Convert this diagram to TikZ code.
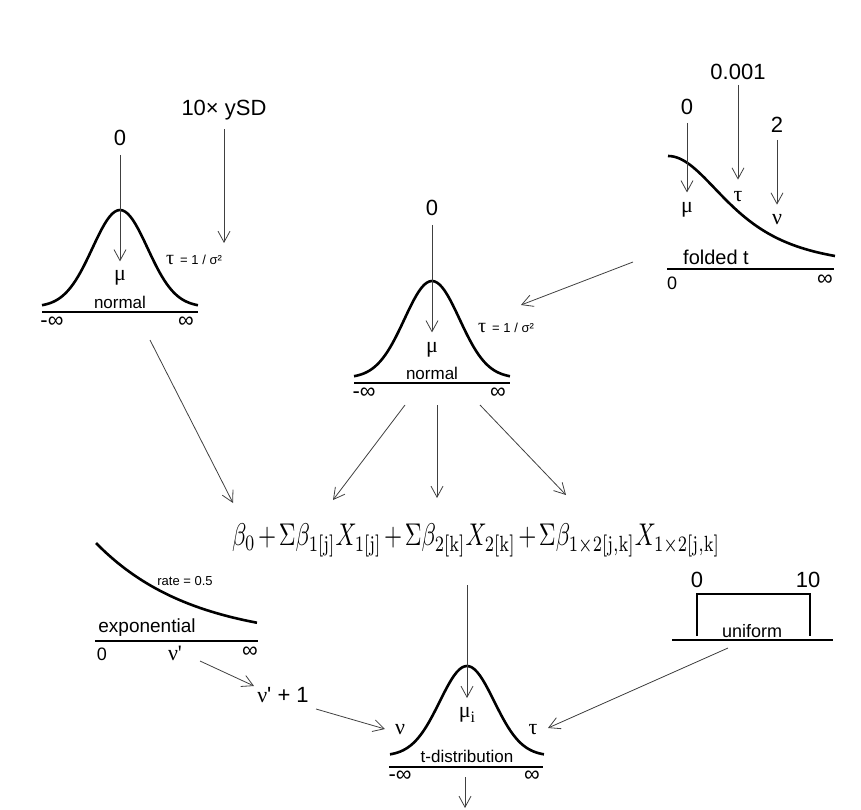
\documentclass[tikz,border=0pt]{standalone}
\usepackage[no-math]{fontspec}
\usepackage{graphicx}
\setmainfont{Liberation Sans}
\newfontfamily\grk{Liberation Serif}
\usetikzlibrary{arrows.meta}

\begin{document}
\begin{tikzpicture}[
    x=1pt,y=-1pt,
    dist/.style={line width=2.6pt},
    axline/.style={line width=1.8pt},
    arr/.style={black!75,line width=0.8pt,-{Straight Barb[length=11pt,width=12pt]}},
    val/.style={font=\fontsize{22}{22}\selectfont,inner sep=0pt},
    prm/.style={font=\fontsize{22}{22}\selectfont\grk,inner sep=0pt},
    dname/.style={font=\fontsize{17}{17}\selectfont,inner sep=0pt},
    inf/.style={font=\fontsize{22}{22}\selectfont,inner sep=0pt},
    note/.style={font=\fontsize{13}{13}\selectfont,inner sep=0pt}
]
\useasboundingbox (0,0) rectangle (861,810);

% top-left normal (intercept)
\draw[dist] plot[domain=-1:1,samples=61] ({120+78*\x},{307-97*exp(-4*\x*\x)});
\draw[axline] (42,312) -- (198,312);
\node[prm] (mu1) at (120,278) {μ};
\node[dname] (nrm1) at (120,302) {normal};
\node[inf] (li1) at (52,322) {-∞};
\node[inf] (ri1) at (186,322) {∞};
\node[val] (z1) at (120,138) {0};
\node[val] (ysd) at (224,110) {10× ySD};
\node[anchor=west,inner sep=0pt] (tau1) at (166,260)
  {{\fontsize{20}{20}\grk τ}\hspace{6pt}{\fontsize{13}{13}\selectfont = 1 / σ²}};
\coordinate (tau1in) at (224,243);
\draw[arr,shorten <=9pt,shorten >=9pt] (z1) -- (mu1);
\draw[arr,shorten <=9pt] (ysd) -- (tau1in);

% centre normal (deflections)
\draw[dist] plot[domain=-1:1,samples=61] ({432+78*\x},{378-97*exp(-4*\x*\x)});
\draw[axline] (354,383) -- (510,383);
\node[prm] (mu2) at (432,350) {μ};
\node[dname] (nrm2) at (432,373) {normal};
\node[inf] (li2) at (364,393) {-∞};
\node[inf] (ri2) at (498,393) {∞};
\node[val] (z2) at (432,208) {0};
\node[anchor=west,inner sep=0pt] (tau2) at (478,328)
  {{\fontsize{20}{20}\grk τ}\hspace{6pt}{\fontsize{13}{13}\selectfont = 1 / σ²}};
\draw[arr,shorten <=9pt,shorten >=10pt] (z2) -- (mu2);

% folded t (sd of deflections)
\draw[dist] plot[domain=0:2.54,samples=61] ({668+167*\x/2.54},{269-113*exp(-1.5*ln(1+\x*\x/2))});
\draw[axline] (667,269) -- (834,269);
\node[dname,font=\fontsize{20}{20}\selectfont] (fld) at (716,257) {folded t};
\node[inf,font=\fontsize{18}{18}\selectfont] (lf) at (672,283) {0};
\node[inf] (rf) at (825,280) {∞};
\node[val] (f1) at (738,72) {0.001};
\node[val] (f2) at (687,107) {0};
\node[val] (f3) at (777,125) {2};
\node[prm] (ftau) at (738,197) {τ};
\node[prm] (fmu) at (687,210) {μ};
\node[prm] (fnu) at (777,220) {ν};
\draw[arr,shorten <=5pt,shorten >=12pt] (f1) -- (ftau);
\draw[arr,shorten <=8pt,shorten >=10pt] (f2) -- (fmu);
\draw[arr,shorten <=7pt,shorten >=10pt] (f3) -- (fnu);
\coordinate (fs) at (633,262);
\coordinate (fe) at (521,305);
\draw[arr] (fs) -- (fe);

% linear predictor
\node (lin) at (476,540) {\resizebox{488pt}{!}{\scalebox{1}[1.35]{\medmuskip=2mu
  $\beta_0+\Sigma\beta_{\mathrm{1[j]}}X_{\mathrm{1[j]}}+\Sigma\beta_{\mathrm{2[k]}}X_{\mathrm{2[k]}}+\Sigma\beta_{\mathrm{1\times2[j,k]}}X_{\mathrm{1\times2[j,k]}}$}}};
\coordinate (a0s) at (150,340);  \coordinate (a0e) at (233,503);
\coordinate (a1s) at (405,405);  \coordinate (a1e) at (333,500);
\coordinate (a2s) at (437,405);  \coordinate (a2e) at (437,498);
\coordinate (a3s) at (480,405);  \coordinate (a3e) at (566,495);
\draw[arr] (a0s) -- (a0e);
\draw[arr] (a1s) -- (a1e);
\draw[arr] (a2s) -- (a2e);
\draw[arr] (a3s) -- (a3e);

% exponential (normality)
\draw[dist] plot[domain=0:1,samples=61] ({96+161*\x},{641-98*exp(-1.68*\x)});
\draw[axline] (95,641) -- (258,641);
\node[dname,font=\fontsize{19}{19}\selectfont] (expo) at (147,628) {exponential};
\node[note] (rate) at (185,581) {rate = 0.5};
\node[inf,font=\fontsize{18}{18}\selectfont] (le) at (102,654) {0};
\node[prm] (nup) at (175,653) {ν\textquotesingle};
\node[inf] (re) at (250,652) {∞};
\node[val] (np1) at (283,695) {{\grk ν}\textquotesingle\ + 1};
\coordinate (e1s) at (200,661);  \coordinate (e1e) at (254,686);
\coordinate (e2s) at (316,709);  \coordinate (e2e) at (385,729);
\draw[arr] (e1s) -- (e1e);
\draw[arr] (e2s) -- (e2e);

% uniform (scale)
\draw[dist] (697,636) -- (697,594) -- (810,594) -- (810,636);
\draw[axline] (672,640) -- (833,640);
\node[val] (u0) at (697,580) {0};
\node[val] (u10) at (808,580) {10};
\node[dname,font=\fontsize{18}{18}\selectfont] (unif) at (752,631) {uniform};
\coordinate (us) at (728,648);  \coordinate (ue) at (548,728);
\draw[arr] (us) -- (ue);

% t likelihood
\draw[dist] plot[domain=-1:1,samples=61] ({467+77*\x},{756-90*exp(-4*\x*\x)});
\draw[axline] (389,767) -- (543,767);
\node[prm] (mui) at (467,715) {μ\raisebox{-5pt}{\fontsize{16}{16}\selectfont i}};
\node[prm] (tnu) at (400,730) {ν};
\node[prm] (ttau) at (533,730) {τ};
\node[dname] (tdist) at (467,756) {t-distribution};
\node[inf] (lt) at (400,776) {-∞};
\node[inf] (rt) at (532,776) {∞};
\coordinate (ls) at (467,585);  \coordinate (le2) at (467,698);
\coordinate (ys) at (465,777);  \coordinate (ye) at (465,808);
\draw[arr] (ls) -- (le2);
\draw[arr] (ys) -- (ye);

\end{tikzpicture}
\end{document}
